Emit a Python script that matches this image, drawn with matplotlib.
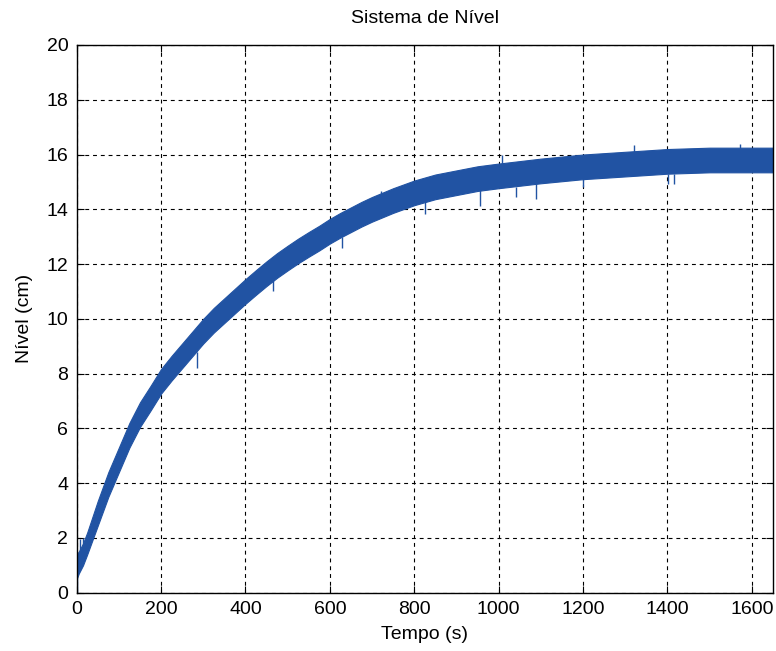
import numpy as np
import matplotlib.pyplot as plt

plt.rcParams['font.family'] = ['Liberation Sans', 'DejaVu Sans']

# envelope of the noisy level signal
tempo = [0, 5, 15, 25, 50, 75, 100, 125, 150, 175, 200, 225, 250, 275, 300,
         325, 350, 375, 400, 425, 450, 475, 500, 525, 550, 575, 600, 625,
         650, 675, 700, 750, 800, 850, 900, 950, 1000, 1100, 1200, 1300,
         1400, 1500, 1600, 1650]
nivel_inf = [0.5, 0.7, 1.0, 1.4, 2.45, 3.5, 4.4, 5.3, 6.05, 6.65, 7.27,
             7.75, 8.2, 8.65, 9.1, 9.5, 9.85, 10.2, 10.55, 10.88, 11.2, 11.5,
             11.77, 12.03, 12.27, 12.5, 12.75, 12.97, 13.17, 13.37, 13.55,
             13.87, 14.15, 14.37, 14.52, 14.67, 14.77, 14.95, 15.1, 15.2,
             15.3, 15.35, 15.35, 15.35]
nivel_sup = [1.4, 1.5, 1.8, 2.2, 3.35, 4.4, 5.3, 6.2, 6.95, 7.55, 8.17,
             8.65, 9.1, 9.55, 10.0, 10.4, 10.75, 11.1, 11.45, 11.78, 12.1,
             12.4, 12.67, 12.93, 13.17, 13.4, 13.65, 13.87, 14.07, 14.27,
             14.45, 14.77, 15.05, 15.27, 15.42, 15.57, 15.67, 15.85, 16.0,
             16.1, 16.2, 16.25, 16.25, 16.25]

# isolated spikes sticking out of the band
pico_t = [1, 8, 14, 285, 466, 628, 720, 826, 956, 1009, 1041, 1088, 1200,
          1320, 1401, 1416, 1572]
pico_de = [0.0, 1.2, 1.4, 8.8, 11.5, 13.0, 14.3, 14.3, 14.7, 15.6, 14.8,
           14.95, 15.15, 16.1, 15.3, 15.3, 16.2]
pico_ate = [1.0, 1.95, 2.0, 8.2, 11.0, 12.6, 14.65, 13.82, 14.12, 15.97,
            14.45, 14.37, 14.8, 16.34, 14.94, 14.92, 16.4]

cor = '#2153a3'

fig = plt.figure(figsize=(7.76, 6.51), dpi=100)
ax = fig.add_axes([0.0988, 0.0896, 0.8973, 0.8413])

ax.fill_between(tempo, nivel_inf, nivel_sup, color=cor, lw=0.8, edgecolor=cor)
ax.vlines(pico_t, pico_de, pico_ate, color=cor, lw=1.0)

ax.set_xlim(0, 1650)
ax.set_ylim(0, 20)
ax.set_xticks(np.arange(0, 1601, 200))
ax.set_yticks(np.arange(0, 21, 2))

ax.set_axisbelow(True)
ax.grid(True, color='k', ls=(0, (3.5, 3.5)), lw=0.8)
ax.tick_params(direction='in', top=True, right=True, length=5, width=0.8,
               labelsize=14, pad=6)
for s in ax.spines.values():
    s.set_linewidth(1.0)

ax.set_title('Sistema de Nível', fontsize=14, pad=16)
ax.set_xlabel('Tempo (s)', fontsize=14, labelpad=6)
ax.set_ylabel('Nível (cm)', fontsize=14, labelpad=10)

fig.savefig('out.png', dpi=100)
